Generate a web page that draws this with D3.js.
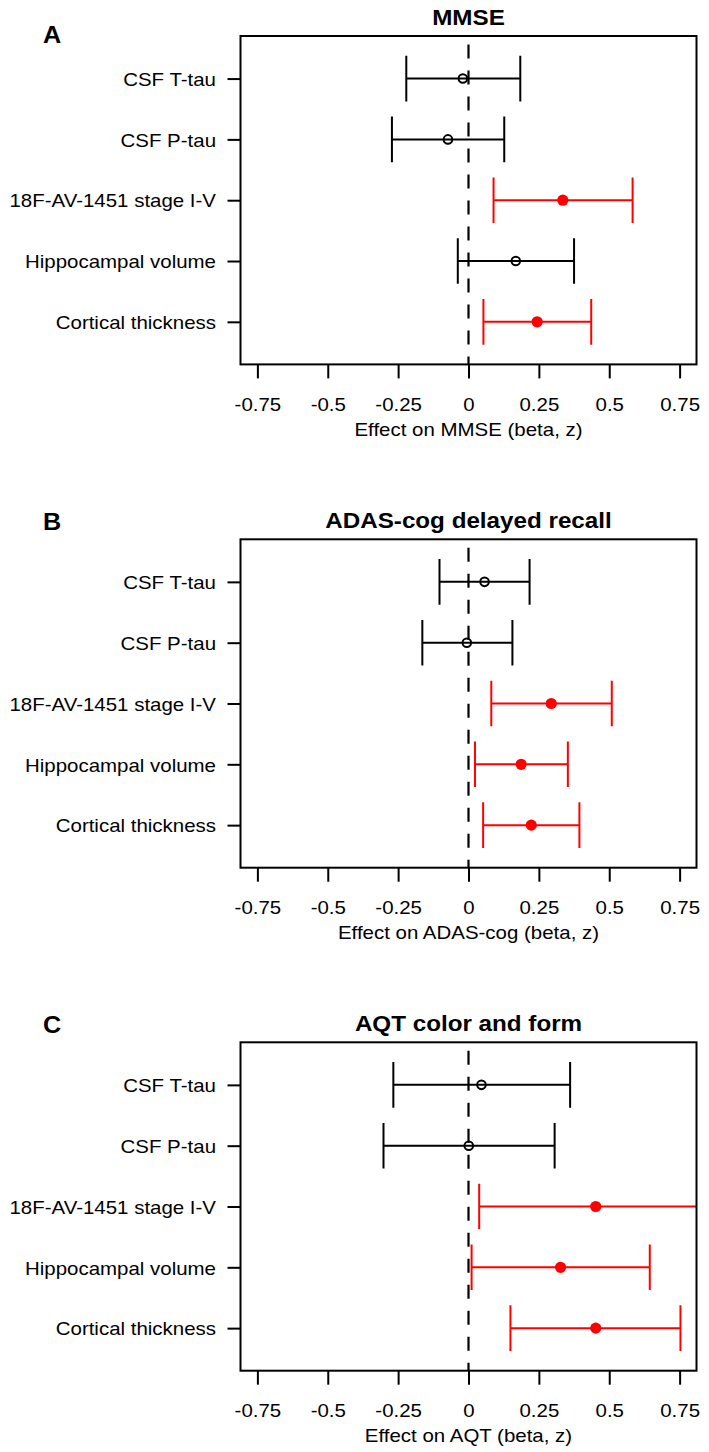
<!DOCTYPE html>
<html>
<head>
<meta charset="utf-8">
<script src="https://cdn.jsdelivr.net/npm/d3@7"></script>
<style>
  body { margin: 0; background: #fff; }
  text { font-family: "Liberation Sans", Arial, sans-serif; fill: #000; }
</style>
</head>
<body>
<div class="visHolder"></div>
<script>
// row labels, top to bottom
const labels = ["CSF T-tau", "CSF P-tau", "18F-AV-1451 stage I-V", "Hippocampal volume", "Cortical thickness"];

// panel A - MMSE
const mmseEst = [-0.02, -0.073, 0.335, 0.168, 0.244];
const mmseLow = [-0.221, -0.272, 0.089, -0.038, 0.053];
const mmseHigh = [0.184, 0.127, 0.583, 0.375, 0.436];
const mmseSig = [0, 0, 1, 0, 1];

// panel B - ADAS-cog
const adasEst = [0.057, -0.006, 0.294, 0.187, 0.223];
const adasLow = [-0.103, -0.164, 0.081, 0.023, 0.052];
const adasHigh = [0.217, 0.156, 0.509, 0.353, 0.394];
const adasSig = [0, 0, 1, 1, 1];

// panel C - AQT
const aqtEst = [0.046, 0.001, 0.452, 0.327, 0.452];
const aqtLow = [-0.267, -0.302, 0.038, 0.011, 0.149];
const aqtHigh = [0.361, 0.306, 0.87, 0.644, 0.753];
const aqtSig = [0, 0, 1, 1, 1];

const tickValues = [-0.75, -0.5, -0.25, 0, 0.25, 0.5, 0.75];
const tickLabels = ["-0.75", "-0.5", "-0.25", "0", "0.25", "0.5", "0.75"];

const panels = [
  {letter: "A", title: "MMSE", xlab: "Effect on MMSE (beta, z)", est: mmseEst, lo: mmseLow, hi: mmseHigh, sig: mmseSig, letterY: 42.7},
  {letter: "B", title: "ADAS-cog delayed recall", xlab: "Effect on ADAS-cog (beta, z)", est: adasEst, lo: adasLow, hi: adasHigh, sig: adasSig, letterY: 530},
  {letter: "C", title: "AQT color and form", xlab: "Effect on AQT (beta, z)", est: aqtEst, lo: aqtLow, hi: aqtHigh, sig: aqtSig, letterY: 1033}
];

const W = 709, H = 1452;
const boxL = 240.5, boxR = 696.5, boxH = 328.4;
const tops = [36, 539.3, 1042.3];
const RED = "#ff0000";

const svg = d3.select(".visHolder").append("svg")
  .attr("width", W).attr("height", H);
svg.append("rect").attr("width", W).attr("height", H).attr("fill", "#fff");

// glyphs in the figure are a bit wider than Arial
function stretch(sel, f) {
  sel.each(function () {
    const len = this.getComputedTextLength();
    this.setAttribute("textLength", len * (f || 1.1));
    this.setAttribute("lengthAdjust", "spacingAndGlyphs");
  });
}

const x = d3.scaleLinear().domain([-0.81, 0.81]).range([boxL, boxR]);

panels.forEach((p, k) => {
  const top = tops[k], bottom = top + boxH;
  const y = d3.scaleLinear().domain([5.7, 0.3]).range([top, bottom]);
  const g = svg.append("g");
  const clipId = "clip" + k;
  svg.append("clipPath").attr("id", clipId)
    .append("rect").attr("x", boxL).attr("y", top).attr("width", boxR - boxL).attr("height", boxH);

  const rows = labels.map((lab, i) => ({
    lab: lab, pos: 5 - i, est: p.est[i], lo: p.lo[i], hi: p.hi[i], sig: p.sig[i]
  }));

  // x axis
  const xAxis = d3.axisBottom(x).tickValues(tickValues)
    .tickFormat((d, i) => tickLabels[i]).tickSize(14).tickPadding(19.5);
  const gx = g.append("g").attr("transform", "translate(0," + bottom + ")").call(xAxis);
  gx.select(".domain").remove();
  gx.selectAll("line").attr("stroke", "#000").attr("stroke-width", 2);
  gx.selectAll("text").attr("font-size", 18.6).attr("fill", "#000").call(stretch);

  // y axis
  const yAxis = d3.axisLeft(y).tickValues(rows.map(r => r.pos))
    .tickFormat(d => labels[5 - d]).tickSize(13).tickPadding(11.5);
  const gy = g.append("g").attr("transform", "translate(" + boxL + ",0)").call(yAxis);
  gy.select(".domain").remove();
  gy.selectAll("line").attr("stroke", "#000").attr("stroke-width", 2);
  gy.selectAll("text").attr("font-size", 18.6).attr("dy", "0.36em").attr("fill", "#000").call(stretch);

  // zero reference line
  g.append("line")
    .attr("x1", x(0)).attr("x2", x(0)).attr("y1", bottom).attr("y2", top)
    .attr("stroke", "#000").attr("stroke-width", 2.2)
    .attr("stroke-dasharray", "14,12").attr("stroke-dashoffset", 6);

  // confidence intervals
  const ci = g.append("g").attr("clip-path", "url(#" + clipId + ")")
    .selectAll("g.ci").data(rows).enter().append("g").attr("class", "ci");
  const col = d => d.sig ? RED : "#000";
  ci.append("line")
    .attr("x1", d => x(d.lo)).attr("x2", d => x(d.hi))
    .attr("y1", d => y(d.pos)).attr("y2", d => y(d.pos))
    .attr("stroke", col).attr("stroke-width", 2);
  ci.append("line")
    .attr("x1", d => x(d.lo)).attr("x2", d => x(d.lo))
    .attr("y1", d => y(d.pos + 0.375)).attr("y2", d => y(d.pos - 0.375))
    .attr("stroke", col).attr("stroke-width", 2);
  ci.append("line")
    .attr("x1", d => x(d.hi)).attr("x2", d => x(d.hi))
    .attr("y1", d => y(d.pos + 0.375)).attr("y2", d => y(d.pos - 0.375))
    .attr("stroke", col).attr("stroke-width", 2);
  ci.append("circle")
    .attr("cx", d => x(d.est)).attr("cy", d => y(d.pos))
    .attr("r", d => d.sig ? 5.6 : 4.3)
    .attr("fill", d => d.sig ? RED : "none")
    .attr("stroke", d => d.sig ? "none" : "#000")
    .attr("stroke-width", 2);

  // box
  g.append("rect")
    .attr("x", boxL).attr("y", top).attr("width", boxR - boxL).attr("height", boxH)
    .attr("fill", "none").attr("stroke", "#000").attr("stroke-width", 2);

  // titles
  g.append("text").attr("x", (boxL + boxR) / 2).attr("y", top - 11.5)
    .attr("text-anchor", "middle").attr("font-size", 22).attr("font-weight", "bold")
    .text(p.title).call(stretch);
  g.append("text").attr("x", (boxL + boxR) / 2).attr("y", bottom + 71.5)
    .attr("text-anchor", "middle").attr("font-size", 18.6)
    .text(p.xlab).call(stretch);
  g.append("text").attr("x", 43).attr("y", p.letterY)
    .attr("font-size", 24).attr("font-weight", "bold")
    .text(p.letter).call(stretch, 1.05);
});
</script>
</body>
</html>
